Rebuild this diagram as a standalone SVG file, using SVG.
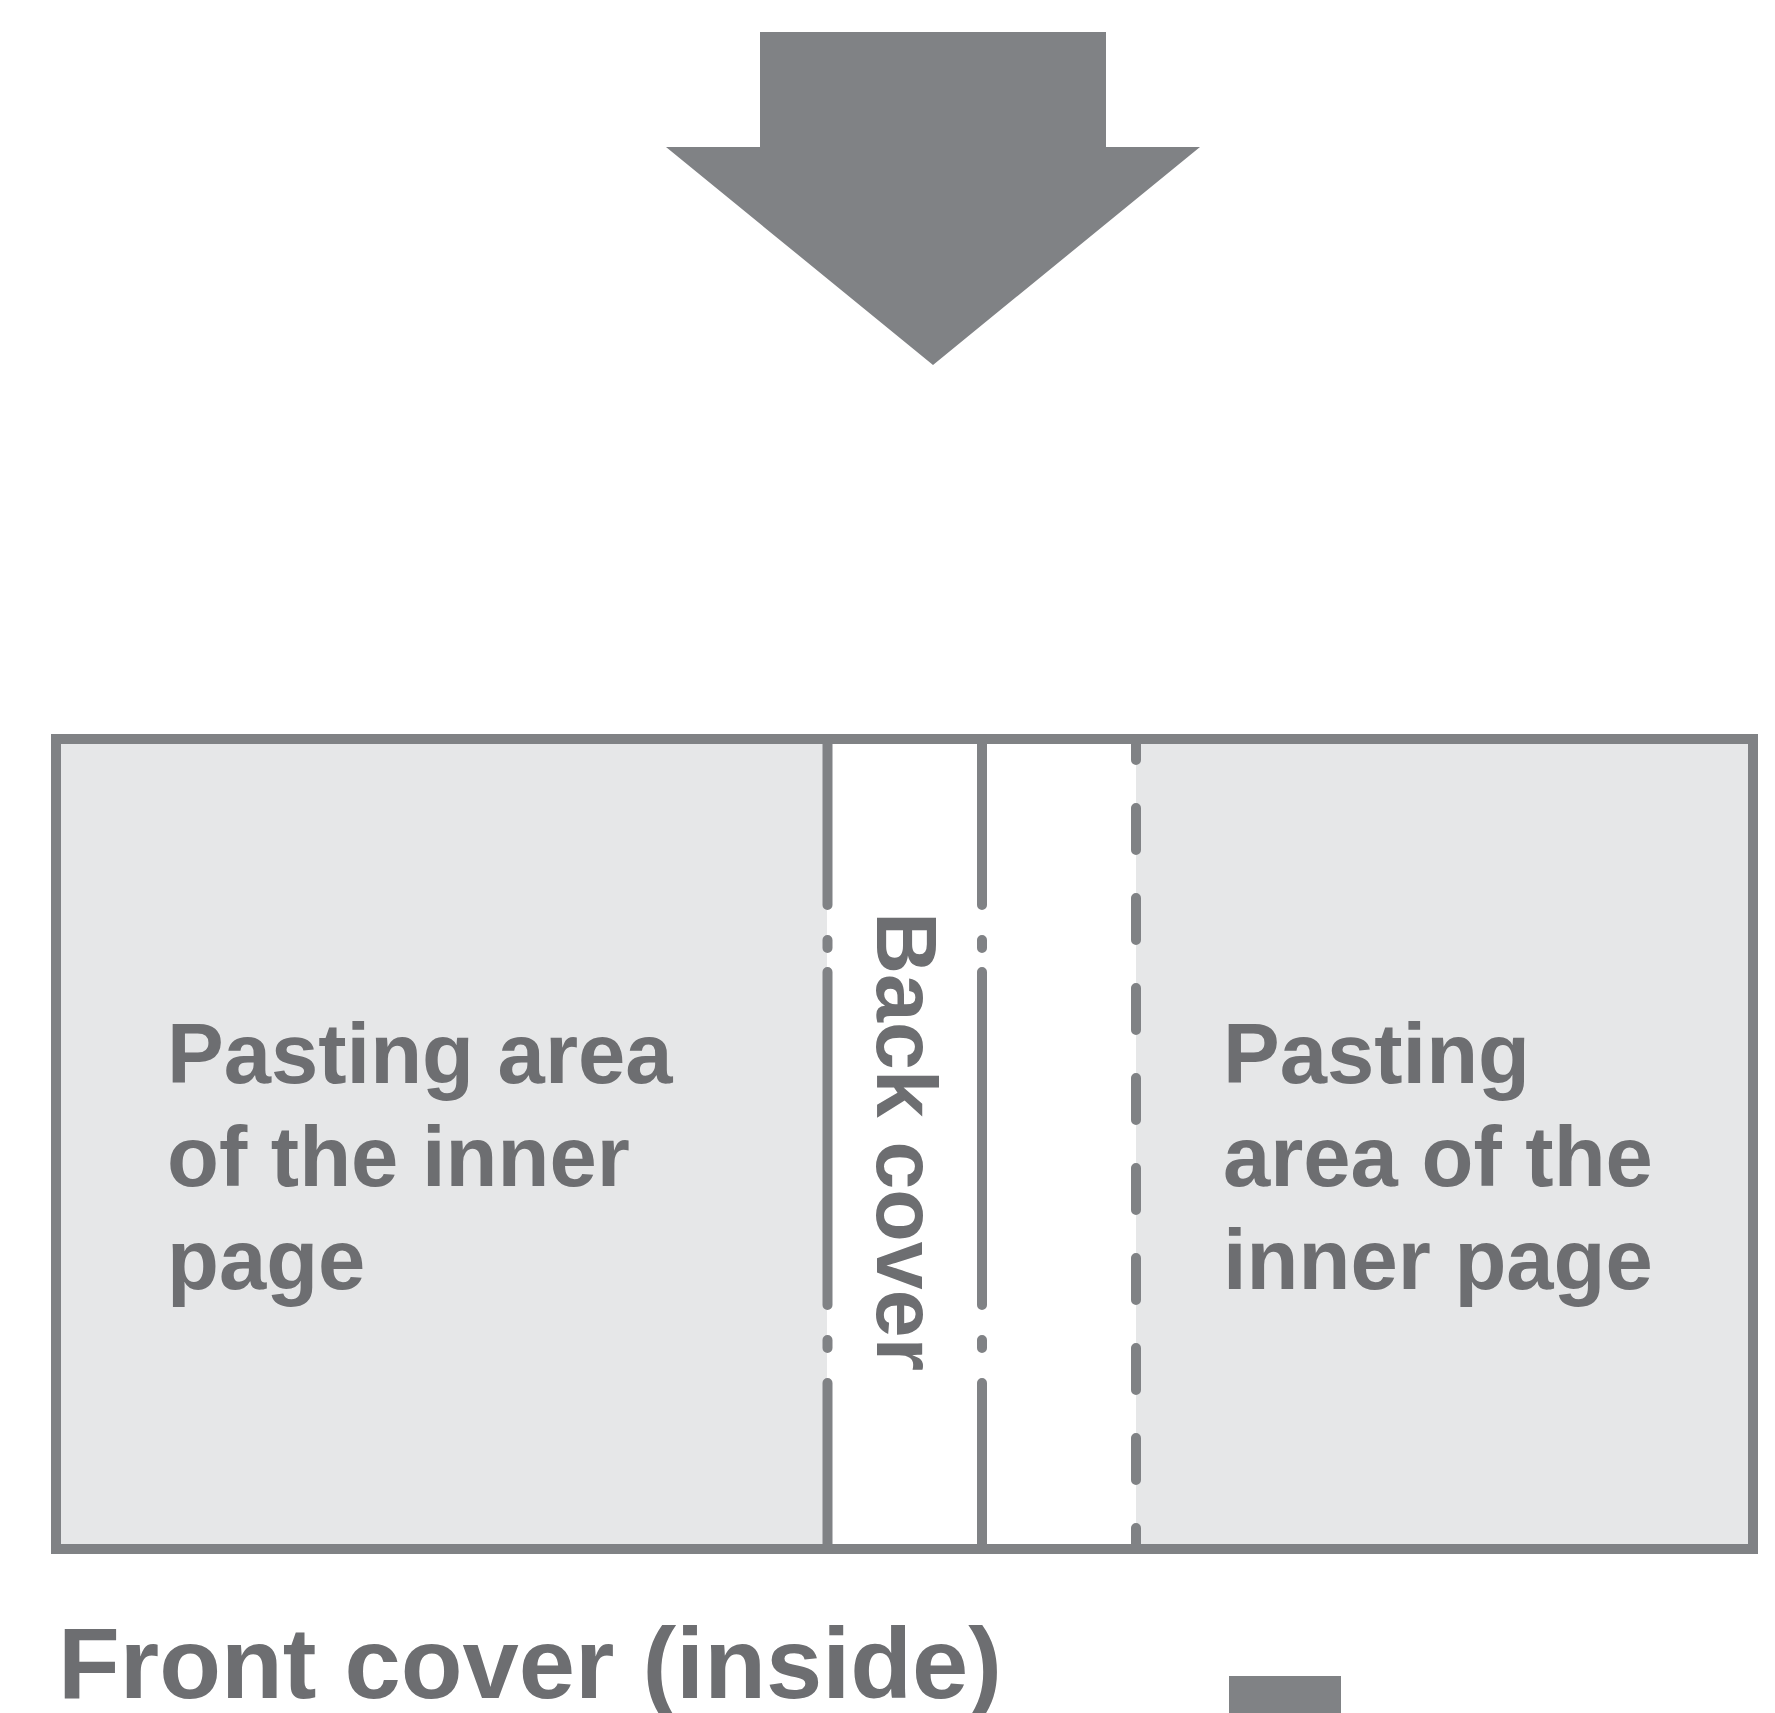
<svg xmlns="http://www.w3.org/2000/svg" width="1775" height="1713" viewBox="0 0 1775 1713">
<style>
.ln{stroke:#808285;stroke-width:10;fill:none;stroke-linecap:round}
.lbl{font-family:"Liberation Sans",Arial,sans-serif;font-weight:bold;fill:#6d6e71}
</style>
<rect width="1775" height="1713" fill="#ffffff"/>
<g id="arrow">
<polygon points="760,32 1106,32 1106,147 1200,147 933,365 666,147 760,147" fill="#808285"/>
</g>
<g id="sheet">
<rect x="56" y="739" width="1697" height="810" fill="#e6e7e8"/>
<rect x="827" y="739" width="309" height="810" fill="#ffffff"/>
<rect x="56" y="739" width="1697" height="810" fill="none" stroke="#808285" stroke-width="10"/>
</g>
<g id="connectors">
<path class="ln" d="M827.5,739V905M827.5,940V948M827.5,972V1305M827.5,1340V1348M827.5,1383V1549"/>
<path class="ln" d="M982,739V905M982,940V948M982,972V1305M982,1340V1348M982,1383V1549"/>
<path class="ln" d="M1136,739V1549" stroke-dasharray="42 48" stroke-dashoffset="21"/>
</g>
<g id="left-area">
<text class="lbl" font-size="85"><tspan x="167" y="1083">Pasting area</tspan><tspan x="167" y="1186">of the inner</tspan><tspan x="167" y="1289">page</tspan></text>
</g>
<g id="back-cover">
<text class="lbl" font-size="86" transform="translate(877,912) rotate(90)">Back cover</text>
</g>
<g id="right-area">
<text class="lbl" font-size="85"><tspan x="1223" y="1083">Pasting</tspan><tspan x="1223" y="1186">area of the</tspan><tspan x="1223" y="1289">inner page</tspan></text>
</g>
<g id="front-cover">
<text class="lbl" font-size="100" x="58" y="1698" textLength="944" lengthAdjust="spacingAndGlyphs">Front cover (inside)</text>
</g>
<g id="next-arrow">
<rect x="1229" y="1676" width="112" height="40" fill="#808285"/>
</g>
</svg>
